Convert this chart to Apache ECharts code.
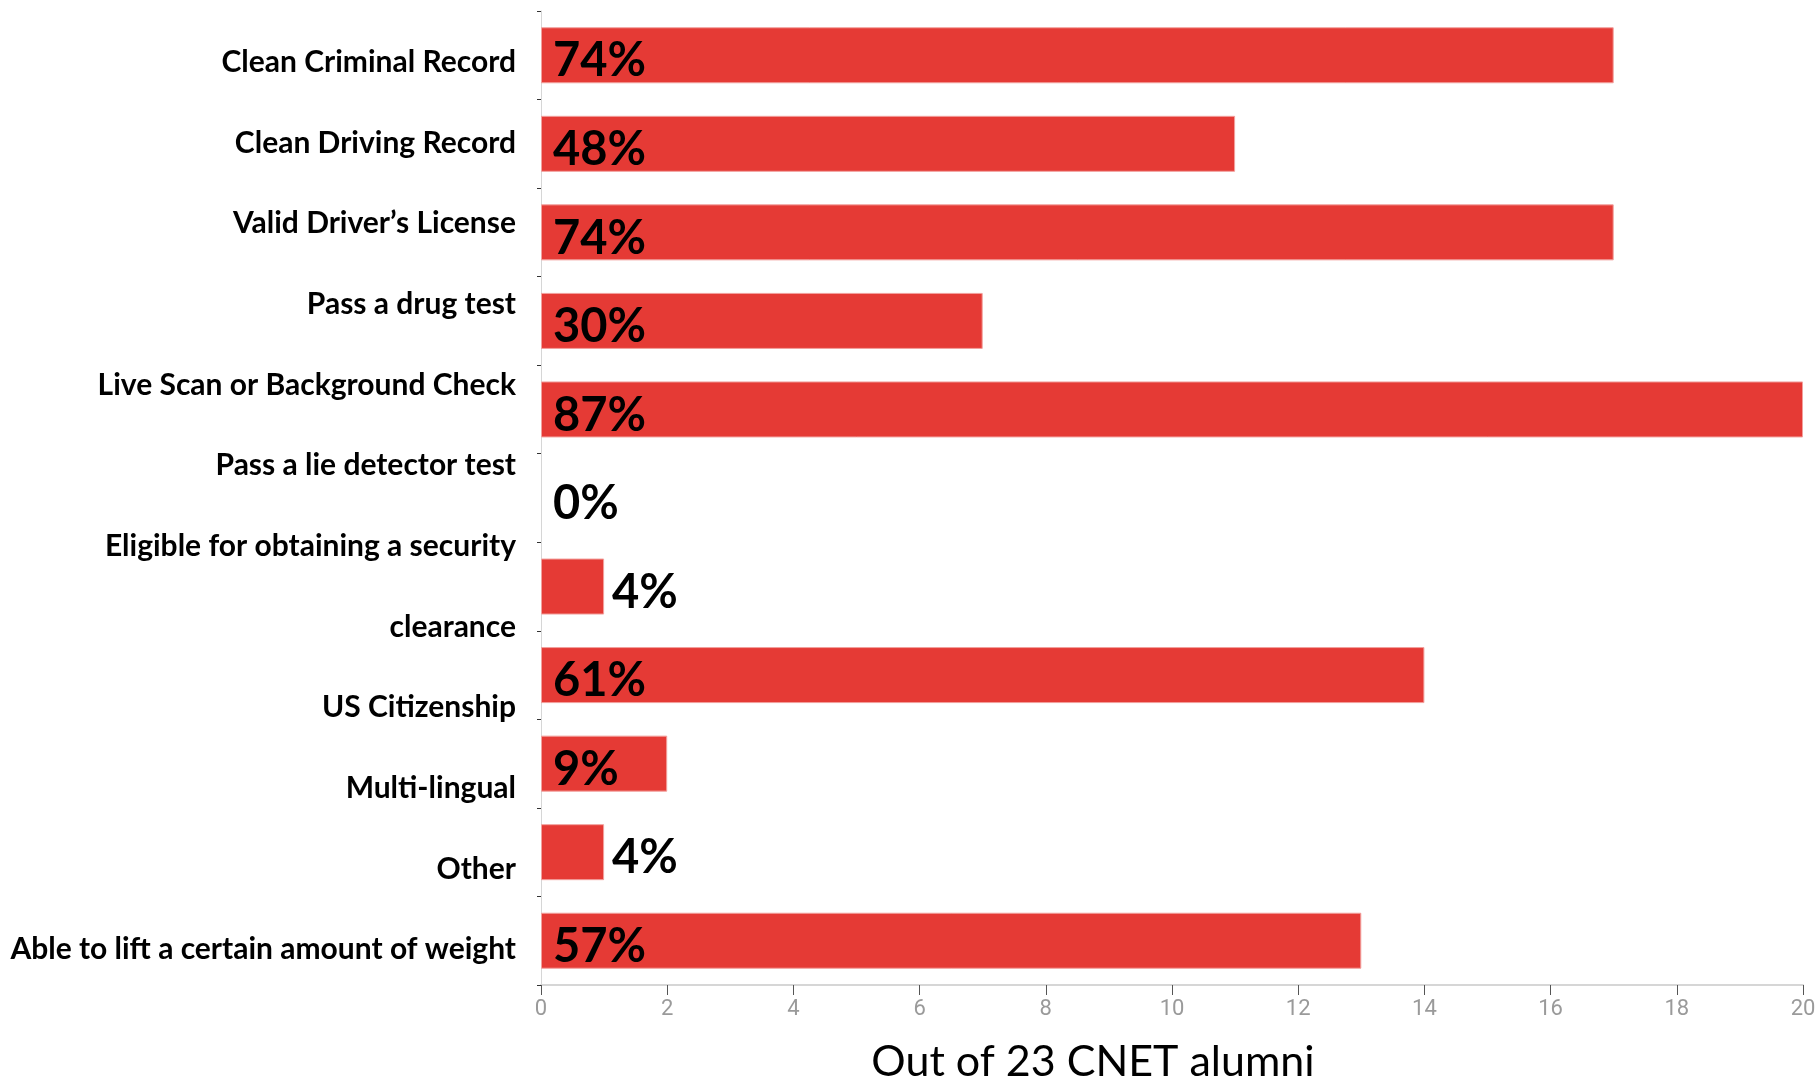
<!DOCTYPE html>
<html>
<head>
<meta charset="utf-8">
<script src="https://cdn.jsdelivr.net/npm/echarts@6/dist/echarts.min.js"></script>
<style>
html,body{margin:0;padding:0;background:#fff;}
#chart{width:1816px;height:1082px;}
</style>
</head>
<body>
<div id="chart"></div>
<script>
// Categories (bars, top to bottom)
var categories = [
  'Clean Criminal Record',
  'Clean Driving Record',
  'Valid Driver’s License',
  'Pass a drug test',
  'Live Scan or Background Check',
  'Pass a lie detector test',
  'Eligible for obtaining a security clearance',
  'US Citizenship',
  'Multi-lingual',
  'Other',
  'Able to lift a certain amount of weight'
];
// Counts out of 23 CNET alumni
var counts = [17, 11, 17, 7, 20, 0, 1, 14, 2, 1, 13];
// Percent labels shown on bars
var percentLabels = ['74%', '48%', '74%', '30%', '87%', '0%', '4%', '61%', '9%', '4%', '57%'];
// Label lines as laid out on the left side of the chart
var labelLines = [
  'Clean Criminal Record',
  'Clean Driving Record',
  'Valid Driver’s License',
  'Pass a drug test',
  'Live Scan or Background Check',
  'Pass a lie detector test',
  'Eligible for obtaining a security',
  'clearance',
  'US Citizenship',
  'Multi-lingual',
  'Other',
  'Able to lift a certain amount of weight'
];
// X axis ticks
var xMin = 0, xMax = 20, xInterval = 2;
var axisTitle = 'Out of 23 CNET alumni';

var barData = counts.map(function (v, i) {
  var small = (v > 0 && v < 2);
  return {
    value: v,
    itemStyle: {borderWidth: v > 0 ? 1 : 0},
    label: {
      show: true,
      formatter: percentLabels[i],
      position: small ? 'right' : 'insideLeft',
      distance: small ? 8 : 12
    }
  };
});

var chart = echarts.init(document.getElementById('chart'), null, {renderer: 'canvas'});
chart.setOption({
  animation: false,
  backgroundColor: '#ffffff',
  grid: [
    {left: 541, right: 13, top: 11, bottom: 97, containLabel: false, outerBoundsMode: 'none'},
    {left: 541, right: 13, top: 22, bottom: 92, containLabel: false, outerBoundsMode: 'none'}
  ],
  xAxis: [
    {
      type: 'value', gridIndex: 0,
      min: xMin, max: xMax, interval: xInterval,
      splitLine: {show: false},
      axisLine: {show: true, lineStyle: {color: '#d6d6d6', width: 2}},
      axisTick: {show: true, length: 10, lineStyle: {color: '#555', width: 1}},
      axisLabel: {color: '#9a9a9a', fontSize: 22, fontFamily: 'Roboto', margin: 13},
      name: axisTitle,
      nameLocation: 'middle',
      nameGap: 56,
      nameTextStyle: {color: '#000', fontSize: 43, fontFamily: 'Lato', padding: [0, 158, 0, 0]}
    },
    {type: 'value', gridIndex: 1, min: 0, max: 1, show: false}
  ],
  yAxis: [
    {
      type: 'category', gridIndex: 0, inverse: true,
      data: categories,
      axisLine: {show: true, lineStyle: {color: '#d6d6d6', width: 1}},
      axisTick: {show: true, length: 4, lineStyle: {color: '#333'}},
      axisLabel: {show: false}
    },
    {
      type: 'category', gridIndex: 1, inverse: true,
      data: labelLines,
      axisLine: {show: false},
      axisTick: {show: false},
      axisLabel: {show: true, color: '#000', fontSize: 30, fontWeight: 'bold', fontFamily: 'Lato', margin: 25}
    }
  ],
  series: [
    {
      type: 'bar',
      xAxisIndex: 0, yAxisIndex: 0,
      data: barData,
      barWidth: 56,
      itemStyle: {color: '#e53a35', borderColor: '#f2a09d', borderWidth: 1},
      label: {color: '#000', fontSize: 47, fontWeight: 'bold', fontFamily: 'Lato', offset: [0, 6]}
    }
  ]
});
</script>
</body>
</html>
